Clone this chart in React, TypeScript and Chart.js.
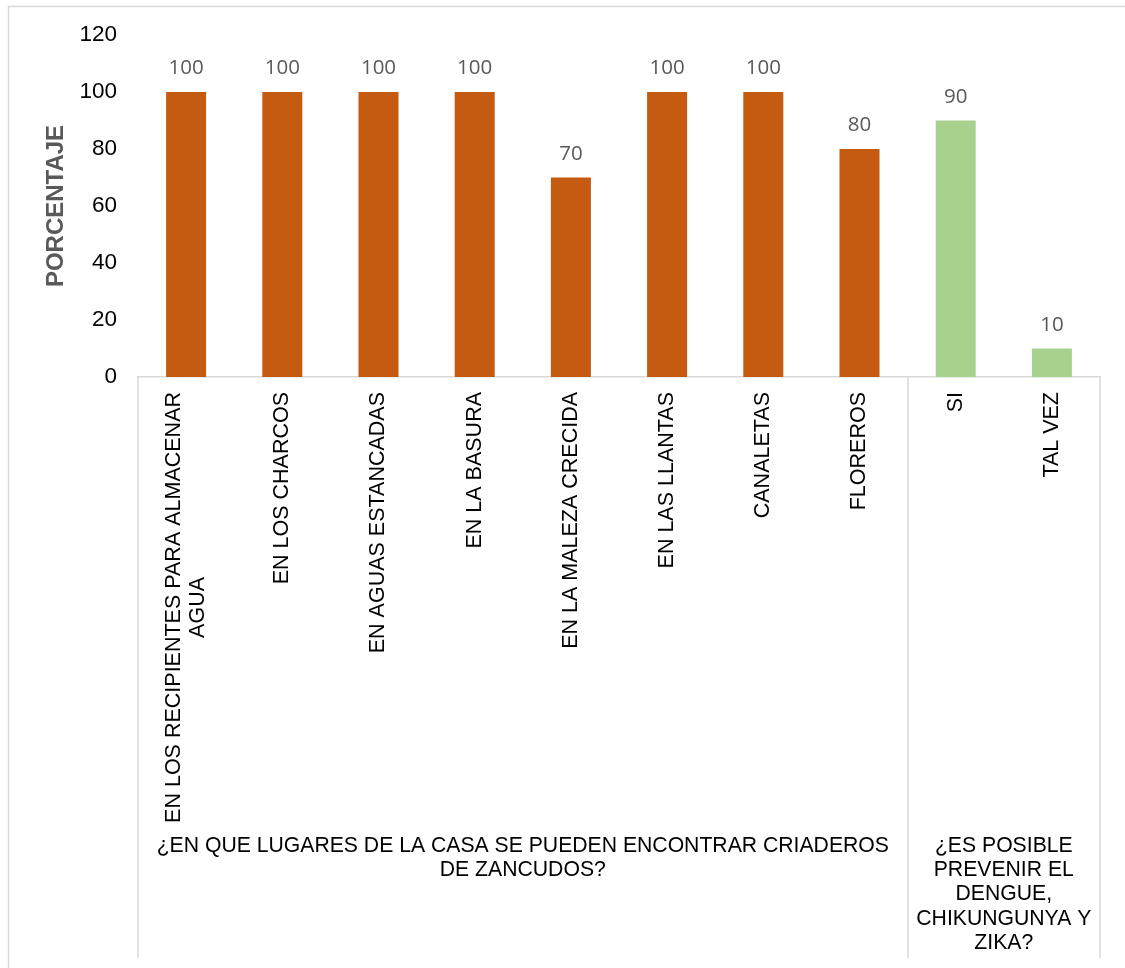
import React, { useEffect, useRef } from "react";
import { Chart, registerables } from "chart.js";

Chart.register(...registerables);

// ---- data ----
const categoryLines: string[][] = [
  ["EN LOS RECIPIENTES PARA ALMACENAR", "AGUA"],
  ["EN LOS CHARCOS"],
  ["EN AGUAS ESTANCADAS"],
  ["EN LA BASURA"],
  ["EN LA MALEZA CRECIDA"],
  ["EN LAS LLANTAS"],
  ["CANALETAS"],
  ["FLOREROS"],
  ["SI"],
  ["TAL VEZ"],
];
const values: number[] = [100, 100, 100, 100, 70, 100, 100, 80, 90, 10];
const groupOf: number[] = [0, 0, 0, 0, 0, 0, 0, 0, 1, 1];
const groupLabels: string[][] = [
  ["¿EN QUE LUGARES DE LA CASA SE PUEDEN ENCONTRAR CRIADEROS", "DE ZANCUDOS?"],
  ["¿ES POSIBLE", "PREVENIR EL", "DENGUE,", "CHIKUNGUNYA Y", "ZIKA?"],
];
const groupColors: string[] = ["#C55A11", "#A9D18E"];
const yMin = 0;
const yMax = 120;
const yStep = 20;
const yTitle = "PORCENTAJE";

const W = 1125;
const H = 968;
const LINE = "#D9D9D9";

const overlay = {
  id: "overlay",
  afterDraw(chart: any) {
    const ctx = chart.ctx as CanvasRenderingContext2D;
    const xs = chart.scales.x;
    const ys = chart.scales.y;
    const area = chart.chartArea;
    const n = categoryLines.length;
    const cw = (area.right - area.left) / n;
    ctx.save();

    // outer border
    ctx.strokeStyle = LINE;
    ctx.lineWidth = 1.5;
    ctx.beginPath();
    ctx.moveTo(8.5, H + 5);
    ctx.lineTo(8.5, 6.5);
    ctx.lineTo(W + 5, 6.5);
    ctx.stroke();

    // data labels
    ctx.fillStyle = "#595959";
    ctx.font = '20.5px "Open Sans"';
    ctx.textAlign = "center";
    ctx.textBaseline = "alphabetic";
    values.forEach((v, i) => {
      const x = xs.getPixelForValue(i);
      const y = ys.getPixelForValue(v);
      ctx.fillText(String(v), x, y - 18);
    });

    // category labels (rotated)
    ctx.fillStyle = "#000000";
    ctx.font = '21.5px "Liberation Sans", Arial, sans-serif';
    ctx.textBaseline = "middle";
    const lh = 24;
    categoryLines.forEach((lines, i) => {
      const x = xs.getPixelForValue(i);
      const maxW = Math.max(...lines.map((l) => ctx.measureText(l).width));
      ctx.save();
      ctx.translate(x, area.bottom + 15);
      ctx.rotate(-Math.PI / 2);
      ctx.textAlign = "center";
      lines.forEach((l, k) => {
        const off = (k - (lines.length - 1) / 2) * lh;
        ctx.fillText(l, -maxW / 2, off);
      });
      ctx.restore();
    });

    // group separators and labels
    const groups: { start: number; end: number }[] = [];
    groupOf.forEach((g, i) => {
      if (!groups[g]) groups[g] = { start: i, end: i };
      else groups[g].end = i;
    });
    ctx.strokeStyle = LINE;
    ctx.lineWidth = 1.5;
    const bounds: number[] = [];
    groups.forEach((g) => {
      bounds.push(xs.getPixelForValue(g.start) - cw / 2);
      bounds.push(xs.getPixelForValue(g.end) + cw / 2);
    });
    const uniq = Array.from(new Set(bounds.map((b) => Math.round(b))));
    uniq.forEach((b) => {
      ctx.beginPath();
      ctx.moveTo(b, area.bottom);
      ctx.lineTo(b, 958);
      ctx.stroke();
    });
    ctx.fillStyle = "#000000";
    ctx.font = '21.2px "Liberation Sans", Arial, sans-serif';
    ctx.textAlign = "center";
    ctx.textBaseline = "middle";
    groups.forEach((g, gi) => {
      const l = xs.getPixelForValue(g.start) - cw / 2;
      const r = xs.getPixelForValue(g.end) + cw / 2;
      const cx = (l + r) / 2;
      groupLabels[gi].forEach((t, k) => {
        ctx.fillText(t, cx, 846 + k * 24.3);
      });
    });

    // y title
    ctx.fillStyle = "#595959";
    ctx.font = 'bold 24px "Liberation Sans", Arial, sans-serif';
    ctx.save();
    ctx.translate(56, (area.top + area.bottom) / 2);
    ctx.rotate(-Math.PI / 2);
    ctx.textAlign = "center";
    ctx.textBaseline = "middle";
    ctx.fillText(yTitle, 0, 0);
    ctx.restore();

    ctx.restore();
  },
};

export default function App() {
  const ref = useRef<HTMLCanvasElement | null>(null);
  useEffect(() => {
    if (!ref.current) return;
    const chart = new Chart(ref.current, {
      type: "bar",
      data: {
        labels: categoryLines.map((l) => l.join(" ")),
        datasets: [
          {
            data: values,
            backgroundColor: groupOf.map((g) => groupColors[g]),
            borderWidth: 0,
            barPercentage: 0.416,
            categoryPercentage: 1,
          },
        ],
      },
      options: {
        responsive: false,
        animation: false,
        events: [],
        layout: { padding: { top: 35, right: 25, left: 0, bottom: 0 } },
        plugins: { legend: { display: false }, tooltip: { enabled: false }, title: { display: false } },
        scales: {
          x: {
            type: "category",
            offset: true,
            grid: { display: false, drawTicks: false },
            border: { display: true, color: LINE, width: 1.5 },
            ticks: { display: false },
            afterFit: (s: any) => {
              s.height = H - 377;
            },
          },
          y: {
            min: yMin,
            max: yMax,
            grid: { display: false, drawTicks: false },
            border: { display: false },
            ticks: {
              stepSize: yStep,
              padding: 21,
              color: "#000000",
              font: { family: '"Liberation Sans", Arial, sans-serif', size: 22.5 },
            },
            afterFit: (s: any) => {
              s.width = 138;
            },
          },
        },
      },
      plugins: [overlay],
    });
    return () => chart.destroy();
  }, []);
  return (
    <div style={{ position: "fixed", left: 0, top: 0, width: W, height: H, background: "#fff" }}>
      <canvas ref={ref} width={W} height={H} style={{ width: W, height: H, display: "block" }} />
    </div>
  );
}
